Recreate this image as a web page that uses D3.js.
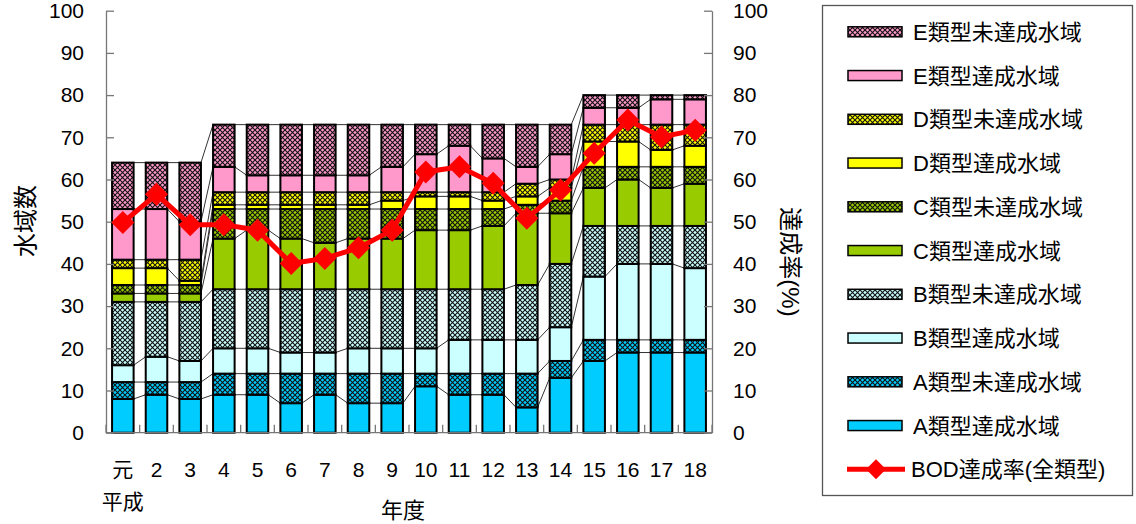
<!DOCTYPE html>
<html>
<head>
<meta charset="utf-8">
<script src="https://cdn.jsdelivr.net/npm/d3@7"></script>
<style>
body { margin:0; background:#fff; }
text { font-family:"Liberation Sans","Noto Sans CJK JP",sans-serif; fill:#000; }
</style>
</head>
<body>
<div id="chart-area"></div>
<script>
// 年度 (平成)
var years = ["元","2","3","4","5","6","7","8","9","10","11","12","13","14","15","16","17","18"];

// 水域数 by type, bottom to top of each bar
var aOk   = [8,9,8,9,9,7,9,7,7,11,9,9,6,13,17,19,19,19];
var aNg   = [4,3,4,5,5,7,5,7,7,3,5,5,8,4,5,3,3,3];
var bOk   = [4,6,5,6,6,5,5,6,6,6,8,8,8,8,15,18,18,17];
var bNg   = [15,13,14,14,14,15,15,14,14,14,12,12,13,15,12,9,9,10];
var cOk   = [2,2,2,12,14,12,11,12,12,14,14,15,17,12,9,11,9,10];
var cNg   = [2,2,2,7,5,7,8,7,7,5,5,4,2,3,5,3,5,4];
var dOk   = [4,4,1,1,1,1,1,1,2,3,3,2,2,3,6,6,4,5];
var dNg   = [2,2,5,3,3,3,3,3,2,1,1,2,3,2,4,4,6,5];
var eOk   = [12,12,9,6,4,4,4,4,6,9,11,8,4,6,4,4,6,6];
var eNg   = [11,11,14,10,12,12,12,12,10,7,5,8,10,7,3,3,1,1];

// BOD達成率 (%)
var bodRate = [49.8,56.5,49.3,49.3,48,40.1,41.3,43.8,48,61.8,63,59.1,50.8,57.5,66.2,74.1,70.1,71.7];

var yTicks = [0,10,20,30,40,50,60,70,80,90,100];

var keys   = ["aOk","aNg","bOk","bNg","cOk","cNg","dOk","dNg","eOk","eNg"];
var labels = ["A類型達成水域","A類型未達成水域","B類型達成水域","B類型未達成水域","C類型達成水域",
              "C類型未達成水域","D類型達成水域","D類型未達成水域","E類型達成水域","E類型未達成水域"];
var colors = ["#00ccff","#00ccff","#ccffff","#ccffff","#99cc00","#99cc00","#ffff00","#ffff00","#ff99cc","#ff99cc"];
var hatched = [false,true,false,true,false,true,false,true,false,true];

var width = 1136, height = 524;
var plot = { left:106, right:712, top:10.7, bottom:432.7 };

var svg = d3.select("#chart-area")
    .append("svg")
    .attr("width", width)
    .attr("height", height);

var defs = svg.append("defs");
keys.forEach(function(k, i){
    if (!hatched[i]) return;
    var p = defs.append("pattern")
        .attr("id", "hatch-" + k)
        .attr("patternUnits", "userSpaceOnUse")
        .attr("width", 5).attr("height", 5);
    p.append("rect").attr("width", 5).attr("height", 5).attr("fill", colors[i]);
    p.append("path")
        .attr("d", "M0,0L5,5M5,0L0,5")
        .attr("stroke", "#111")
        .attr("stroke-width", 1.1);
});
function fillOf(i){ return hatched[i] ? "url(#hatch-" + keys[i] + ")" : colors[i]; }

var x = d3.scaleBand()
    .domain(years)
    .range([plot.left, plot.right])
    .paddingInner(0.36)
    .paddingOuter(0.18);

var y = d3.scaleLinear().domain([0,100]).range([plot.bottom, plot.top]);
var yRate = d3.scaleLinear().domain([0,100]).range([plot.bottom, plot.top]);

var rows = years.map(function(yr, i){
    return { year:yr, aOk:aOk[i], aNg:aNg[i], bOk:bOk[i], bNg:bNg[i], cOk:cOk[i],
             cNg:cNg[i], dOk:dOk[i], dNg:dNg[i], eOk:eOk[i], eNg:eNg[i] };
});
var layers = d3.stack().keys(keys)(rows);

//series lines between bars
var bw = x.bandwidth();
layers.forEach(function(layer){
    for (var i = 0; i < years.length - 1; i++) {
        svg.append("line")
            .attr("x1", x(years[i]) + bw)
            .attr("x2", x(years[i+1]))
            .attr("y1", y(layer[i][1]))
            .attr("y2", y(layer[i+1][1]))
            .attr("stroke", "#333")
            .attr("stroke-width", 1);
    }
});

//bars
svg.selectAll(".layer")
    .data(layers)
    .enter()
    .append("g")
    .attr("class", "layer")
    .attr("fill", function(d, i){ return fillOf(i); })
    .selectAll("rect")
    .data(function(d){ return d; })
    .enter()
    .append("rect")
    .attr("x", function(d){ return x(d.data.year); })
    .attr("y", function(d){ return y(d[1]); })
    .attr("width", bw)
    .attr("height", function(d){ return y(d[0]) - y(d[1]); })
    .attr("stroke", "#000")
    .attr("stroke-width", 2);

//axes
var leftAxis = svg.append("g")
    .attr("transform", "translate(" + plot.left + ",0)")
    .call(d3.axisLeft(y).tickValues(yTicks).tickSizeInner(-8).tickSizeOuter(0).tickPadding(22));
var rightAxis = svg.append("g")
    .attr("transform", "translate(" + plot.right + ",0)")
    .call(d3.axisRight(yRate).tickValues(yTicks).tickSizeInner(-8).tickSizeOuter(0).tickPadding(21));
[leftAxis, rightAxis].forEach(function(a){
    a.selectAll("path, line").attr("stroke", "#777").attr("stroke-width", 1.3);
    a.selectAll("text").style("font-size", "21px").attr("fill", "#000");
});

svg.append("line")
    .attr("x1", plot.left).attr("x2", plot.right)
    .attr("y1", plot.bottom).attr("y2", plot.bottom)
    .attr("stroke", "#777").attr("stroke-width", 1.3);
d3.range(years.length + 1).forEach(function(k){
    var tx = plot.left + x.step() * k;
    svg.append("line")
        .attr("x1", tx).attr("x2", tx)
        .attr("y1", plot.bottom).attr("y2", plot.bottom - 8)
        .attr("stroke", "#777").attr("stroke-width", 1.3);
});

svg.selectAll(".xlab")
    .data(years)
    .enter()
    .append("text")
    .attr("class", "xlab")
    .attr("x", function(d){ return x(d) + bw / 2; })
    .attr("y", 477)
    .attr("text-anchor", "middle")
    .style("font-size", "21px")
    .text(function(d){ return d; });

svg.append("text")
    .attr("x", x(years[0]) + bw / 2)
    .attr("y", 509)
    .attr("text-anchor", "middle")
    .style("font-size", "21px")
    .text("平成");

svg.append("text")
    .attr("x", 403)
    .attr("y", 518)
    .attr("text-anchor", "middle")
    .style("font-size", "22px")
    .text("年度");

svg.append("text")
    .attr("transform", "translate(34,221) rotate(-90)")
    .attr("text-anchor", "middle")
    .style("font-size", "24px")
    .text("水域数");

svg.append("text")
    .attr("transform", "translate(782,262) rotate(90)")
    .attr("text-anchor", "middle")
    .style("font-size", "24px")
    .text("達成率(%)");

//BOD line
var diamond = function(r){ return "M0," + (-r) + "L" + r + ",0L0," + r + "L" + (-r) + ",0Z"; };

var line = d3.line()
    .x(function(d, i){ return x(years[i]) + bw / 2; })
    .y(function(d){ return yRate(d); });

svg.append("path")
    .datum(bodRate)
    .attr("d", line)
    .attr("fill", "none")
    .attr("stroke", "#ff0000")
    .attr("stroke-width", 5);

svg.selectAll(".marker")
    .data(bodRate)
    .enter()
    .append("path")
    .attr("class", "marker")
    .attr("d", diamond(11.5))
    .attr("transform", function(d, i){ return "translate(" + (x(years[i]) + bw / 2) + "," + yRate(d) + ")"; })
    .attr("fill", "#ff0000");

//legend
var legend = svg.append("g");
legend.append("rect")
    .attr("x", 822.5).attr("y", 5.5)
    .attr("width", 310).attr("height", 490)
    .attr("fill", "#fff")
    .attr("stroke", "#555")
    .attr("stroke-width", 1.3);

var legendOrder = d3.range(keys.length).reverse();
legendOrder.forEach(function(i, n){
    var cy = 31.8 + n * 43.75;
    legend.append("rect")
        .attr("x", 848).attr("y", cy - 5)
        .attr("width", 54).attr("height", 10)
        .attr("fill", fillOf(i))
        .attr("stroke", "#000")
        .attr("stroke-width", 1.5);
    legend.append("text")
        .attr("x", 913).attr("y", cy + 8)
        .style("font-size", "22px")
        .text(labels[i]);
});

var bodY = 31.8 + 10 * 43.75;
legend.append("line")
    .attr("x1", 847).attr("x2", 905)
    .attr("y1", bodY).attr("y2", bodY)
    .attr("stroke", "#ff0000")
    .attr("stroke-width", 5);
legend.append("path")
    .attr("d", diamond(10))
    .attr("transform", "translate(876," + bodY + ")")
    .attr("fill", "#ff0000");
legend.append("text")
    .attr("x", 911).attr("y", bodY + 8)
    .style("font-size", "22px")
    .text("BOD達成率(全類型)");
</script>
</body>
</html>
